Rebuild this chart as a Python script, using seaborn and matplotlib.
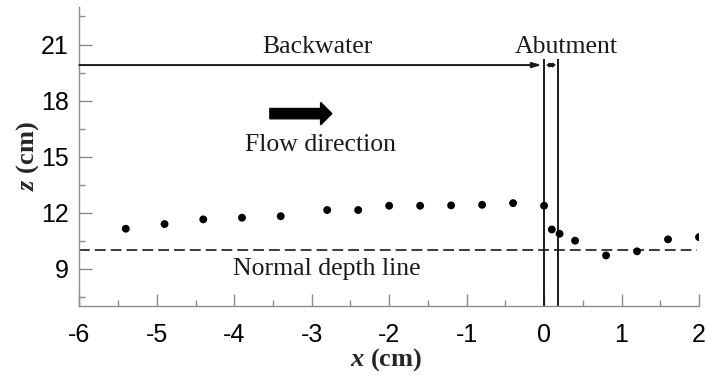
import matplotlib
matplotlib.use("Agg")
import matplotlib.pyplot as plt
import seaborn as sns
import pandas as pd
import numpy as np

# Data
x_cm = [-5.4, -4.9, -4.4, -3.9, -3.4, -2.8, -2.4, -2.0, -1.6, -1.2, -0.8, -0.4,
        0.0, 0.1, 0.2, 0.4, 0.8, 1.2, 1.6, 2.0]
z_cm = [11.14, 11.39, 11.64, 11.73, 11.81, 12.14, 12.14, 12.37, 12.37, 12.39, 12.42, 12.51,
        12.37, 11.10, 10.87, 10.50, 9.71, 9.93, 10.57, 10.69]
normal_depth = 10.0
abutment_edges = [0.0, 0.18]
x_ticks = [-6, -5, -4, -3, -2, -1, 0, 1, 2]
y_ticks = [9, 12, 15, 18, 21]

sns.set_theme(style="white")
plt.rcParams['mathtext.fontset'] = 'custom'
plt.rcParams['mathtext.it'] = 'Liberation Serif:italic:bold'
plt.rcParams['mathtext.rm'] = 'Liberation Serif:bold'

fig = plt.figure(figsize=(7.05, 3.76), dpi=100)
ax = fig.add_axes([0.1125, 0.186, 0.879, 0.795])

df = pd.DataFrame({"x": x_cm, "z": z_cm})
sns.scatterplot(data=df, x="x", y="z", ax=ax, color="black", s=32,
                edgecolor="none", zorder=5)

ink = "#1a1a1a"
# normal depth dashed line
ax.plot([-6, 1.97], [normal_depth, normal_depth], color=ink, lw=1.2,
        dashes=(6.5, 3.0))
# abutment vertical lines
ax.vlines(abutment_edges, 7, 20.2, color=ink, lw=1.4)
# backwater arrow
ax.annotate("", xy=(-0.03, 19.9), xytext=(-6, 19.9),
            arrowprops=dict(arrowstyle="-|>,head_length=0.45,head_width=0.13",
                            color=ink, lw=1.4, shrinkA=0, shrinkB=0))
# abutment double arrow
ax.annotate("", xy=(abutment_edges[1] - 0.01, 19.9), xytext=(abutment_edges[0] + 0.01, 19.9),
            arrowprops=dict(arrowstyle="<|-|>,head_length=0.35,head_width=0.1",
                            color=ink, lw=1.0, shrinkA=0, shrinkB=0))
# flow direction arrow
ax.arrow(-3.54, 17.3, 0.8, 0, width=0.55, head_width=1.2, head_length=0.145,
         length_includes_head=True, color="black")

serif = "Liberation Serif"
ax.text(-2.92, 20.85, "Backwater", family=serif, fontsize=18.5, ha="center", va="center", color=ink)
ax.text(0.28, 20.85, "Abutment", family=serif, fontsize=18.5, ha="center", va="center", color=ink)
ax.text(-2.88, 15.6, "Flow direction", family=serif, fontsize=18.5, ha="center", va="center", color=ink)
ax.text(-2.81, 9.0, "Normal depth line", family=serif, fontsize=18.5, ha="center", va="center", color=ink)

ax.set_xlim(-6, 2)
ax.set_ylim(7, 23)
ax.set_xticks(x_ticks)
ax.set_yticks(y_ticks)
ax.set_xticks(np.arange(-5.5, 2, 1.0), minor=True)
ax.set_yticks(np.arange(7.5, 23, 3.0), minor=True)
ax.set_xticklabels([str(t) for t in x_ticks])
ax.set_yticklabels([str(t) for t in y_ticks])

spine_c = "#8c8c8c"
for s in ["top", "right"]:
    ax.spines[s].set_visible(False)
for s in ["left", "bottom"]:
    ax.spines[s].set_color(spine_c)
    ax.spines[s].set_linewidth(1.0)
ax.tick_params(which="major", direction="in", length=9, width=1.0, color=spine_c,
               labelsize=18, labelcolor="black")
ax.tick_params(axis="x", which="major", pad=12)
ax.tick_params(axis="y", which="major", pad=7.5)
ax.tick_params(which="minor", direction="in", length=4.5, width=1.0, color=spine_c)
ax.tick_params(axis="both", which="both", bottom=True, left=True)
for lab in ax.get_xticklabels() + ax.get_yticklabels():
    lab.set_family("Liberation Sans")

ax.set_xlabel(r"$x$ (cm)", family=serif, fontweight="bold", fontsize=19, va="center")
ax.xaxis.set_label_coords(0.495, -0.178)
ax.set_ylabel(r"$z$ (cm)", family=serif, fontweight="bold", fontsize=19, va="center")
ax.yaxis.set_label_coords(-0.084, 0.5)

fig.savefig("out.png", dpi=100)
